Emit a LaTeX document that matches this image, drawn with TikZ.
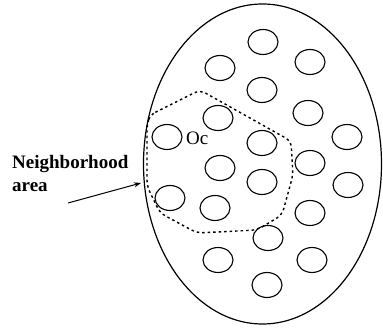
\documentclass[tikz,border=0pt]{standalone}
\usepackage{fontspec}
\setmainfont{Liberation Serif}
\usetikzlibrary{arrows.meta}

\tikzset{
  cell/.style={line width=1.1pt},
  hood/.style={line width=1.4pt, dash pattern=on 2.5pt off 3pt, rounded corners=6pt}
}

\begin{document}
\begin{tikzpicture}[x=1pt, y=-1pt]
  \useasboundingbox (0,0) rectangle (383,328);
  % ---- outer region ----
  \draw[line width=1.2pt] (262.5,164) ellipse (119pt and 160pt);
  % ---- cells, top to bottom ----
  \draw[cell] (263,42) ellipse (15pt and 12.5pt);
  \draw[cell] (220,68) ellipse (15pt and 12.5pt);
  \draw[cell] (310,62) ellipse (15pt and 12.5pt);
  \draw[cell] (262,90) ellipse (15pt and 12.5pt);
  \draw[cell] (308,113) ellipse (15pt and 12.5pt);
  \draw[cell] (218,118) ellipse (15pt and 12.5pt);
  \draw[cell] (167,137) ellipse (15pt and 12.5pt);
  \draw[cell] (347,137) ellipse (15pt and 12.5pt);
  \draw[cell] (262,143) ellipse (15pt and 12.5pt);
  \draw[cell] (310,163) ellipse (15pt and 12.5pt);
  \draw[cell] (220,168) ellipse (15pt and 12.5pt);
  \draw[cell] (262,182) ellipse (15pt and 12.5pt);
  \draw[cell] (348,185) ellipse (15pt and 12.5pt);
  \draw[cell] (170,198) ellipse (15pt and 12.5pt);
  \draw[cell] (215,208) ellipse (15pt and 12.5pt);
  \draw[cell] (310,213) ellipse (15pt and 12.5pt);
  \draw[cell] (268,238) ellipse (15pt and 12.5pt);
  \draw[cell] (218,260) ellipse (15pt and 12.5pt);
  \draw[cell] (312,260) ellipse (15pt and 12.5pt);
  \draw[cell] (267,285) ellipse (15pt and 12.5pt);
  % ---- neighborhood boundary ----
  \draw[hood] (150,115) -- (200,90) -- (291,141) -- (293,175) -- (282,215)
    -- (257,230) -- (197,233) -- (160,213) -- (147,186) -- (147,125) -- cycle;
  \node[anchor=west, inner sep=0pt, font=\fontsize{19}{23}\selectfont] (oc) at (186,138) {Oc};
  % ---- caption and arrow ----
  \node[anchor=north west, align=left, inner sep=0pt,
        font=\fontsize{19}{23}\selectfont\bfseries] (hoodlabel) at (12,155)
    {Neighborhood\\area};
  \coordinate (tail) at (68,203);
  \coordinate (rim) at (141,183);
  \draw[line width=1pt, -{Stealth[length=7pt, width=5pt]}] (tail) -- (rim);
\end{tikzpicture}
\end{document}
